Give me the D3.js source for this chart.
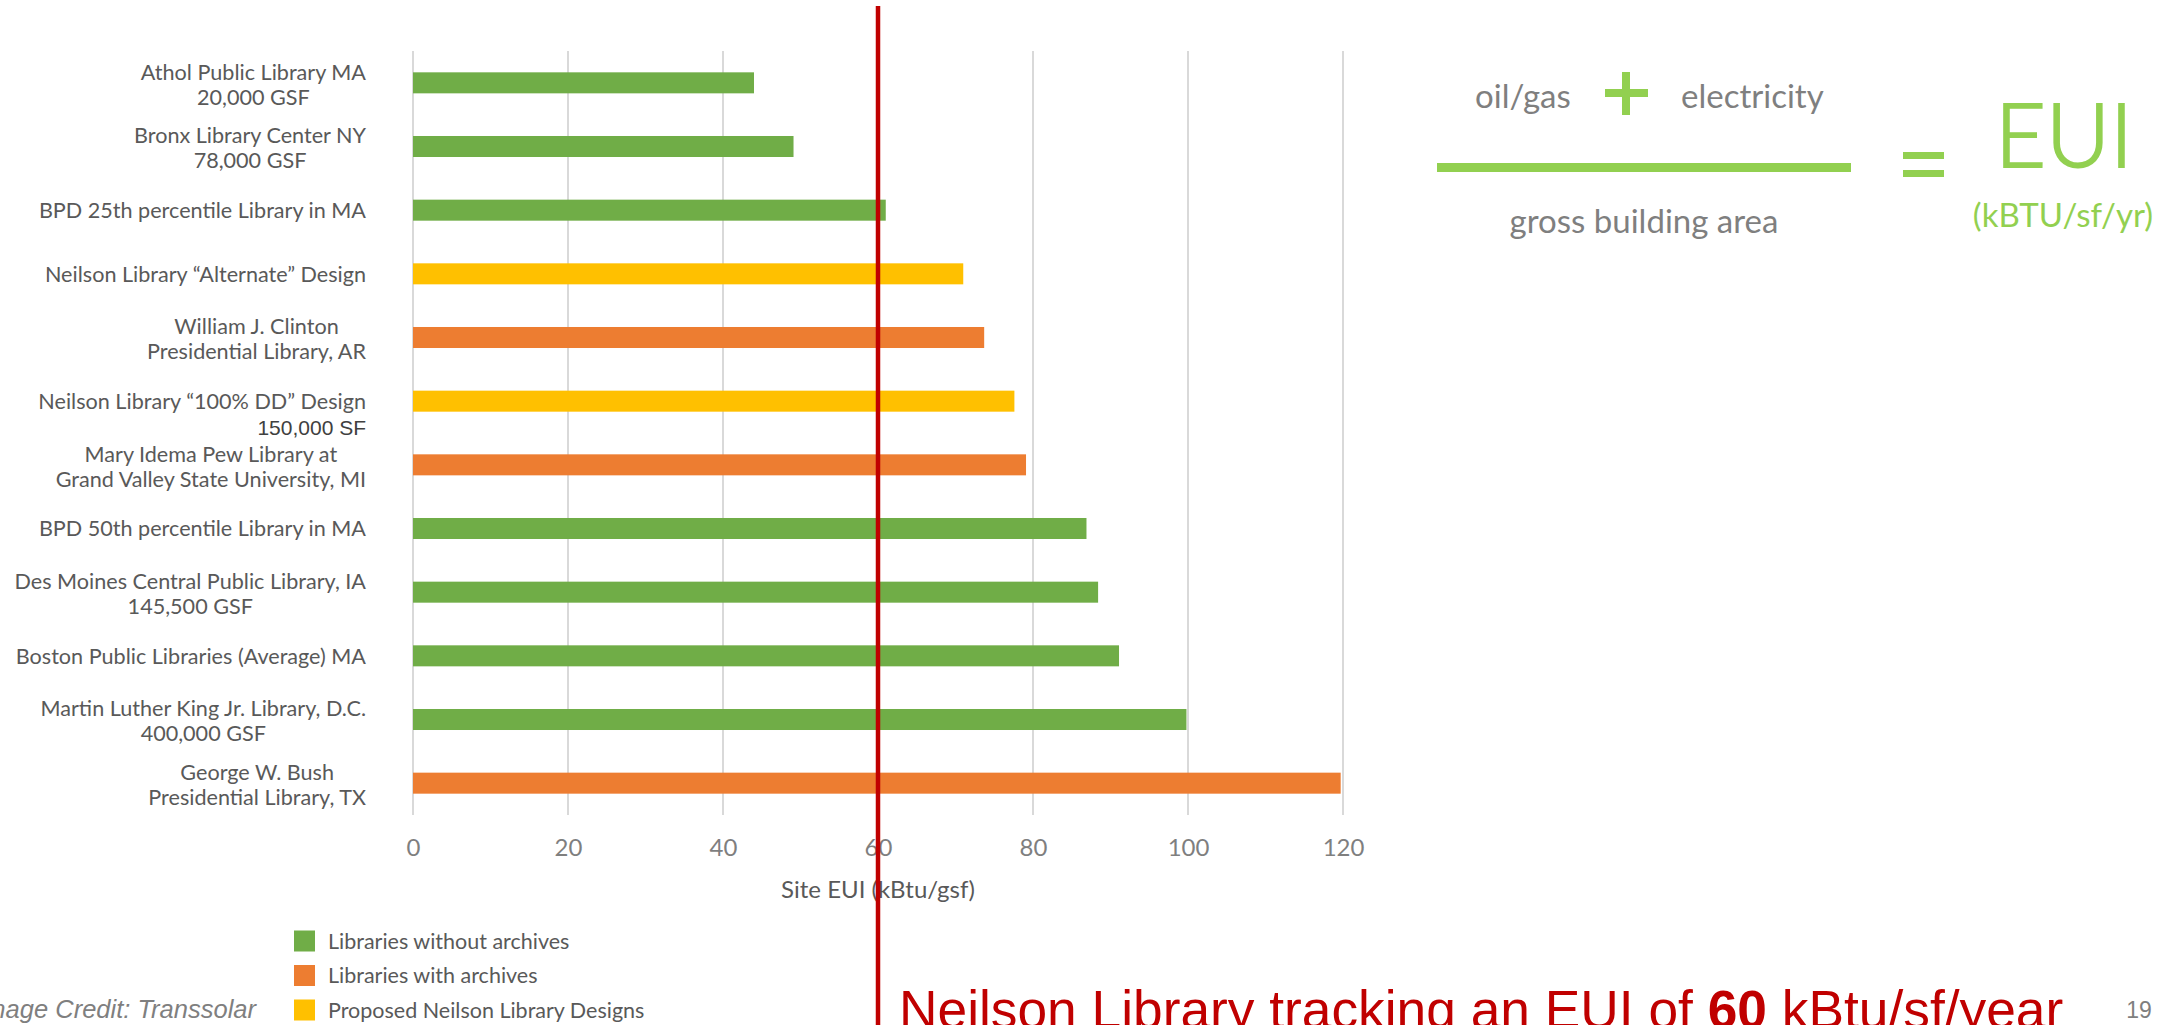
<!DOCTYPE html>
<html><head><meta charset="utf-8">
<script src="https://cdn.jsdelivr.net/npm/d3@7"></script>
<style>
html,body{margin:0;padding:0;background:#fff;}
svg{display:block;}
</style>
</head><body>
<svg id="chart" width="2177" height="1025"></svg>
<script>
// ---------- DATA ----------
const categories = [
  "Athol Public Library MA\n20,000 GSF",
  "Bronx Library Center NY\n78,000 GSF",
  "BPD 25th percentile Library in MA",
  "Neilson Library \u201CAlternate\u201D Design",
  "William J. Clinton\nPresidential Library, AR",
  "Neilson Library \u201C100% DD\u201D Design",
  "Mary Idema Pew Library at\nGrand Valley State University, MI",
  "BPD 50th percentile Library in MA",
  "Des Moines Central Public Library, IA\n145,500 GSF",
  "Boston Public Libraries (Average) MA",
  "Martin Luther King Jr. Library, D.C.\n400,000 GSF",
  "George W. Bush\nPresidential Library, TX"
];
const siteEUI = [44, 49.1, 61, 71, 73.7, 77.6, 79.1, 86.9, 88.4, 91.1, 99.8, 119.7];
const groups = [
  "Libraries without archives", "Libraries without archives", "Libraries without archives",
  "Proposed Neilson Library Designs", "Libraries with archives", "Proposed Neilson Library Designs",
  "Libraries with archives", "Libraries without archives", "Libraries without archives",
  "Libraries without archives", "Libraries without archives", "Libraries with archives"
];
const legendLabels = ["Libraries without archives", "Libraries with archives", "Proposed Neilson Library Designs"];
const xTicks = [0, 20, 40, 60, 80, 100, 120];
const xDomain = [0, 120];
const targetEUI = 60;
const designAreaNote = "150,000 SF";
const axisTitle = "Site EUI (kBtu/gsf)";
const formulaTop = ["oil/gas", "electricity"];
const formulaBottom = "gross building area";
const formulaResult = "EUI";
const formulaUnit = "(kBTU/sf/yr)";
const headline = ["Neilson Library tracking an EUI of ", "60", " kBtu/sf/year"];
const credit = "Image Credit: Transsolar";
const pageNumber = "19";

// ---------- STYLE ----------
const colors = d3.scaleOrdinal().domain(legendLabels).range(["#70AD47", "#ED7D31", "#FFC000"]);
const labelFont = "Lato, 'Open Sans', sans-serif";
const svg = d3.select("#chart");
svg.append("rect").attr("width", 2177).attr("height", 1025).attr("fill", "#fff");

const x = d3.scaleLinear().domain(xDomain).range([413, 1343]);
const y = d3.scaleBand().domain(categories).range([51, 815]).paddingInner(0.67).paddingOuter(0.335);

// gridlines
svg.append("g").selectAll("line").data(xTicks).join("line")
  .attr("x1", d => x(d)).attr("x2", d => x(d))
  .attr("y1", 51).attr("y2", 815)
  .attr("stroke", "#d9d9d9").attr("stroke-width", 2);

// bars
svg.append("g").selectAll("rect").data(categories).join("rect")
  .attr("x", x(0)).attr("y", d => y(d))
  .attr("width", (d, i) => x(siteEUI[i]) - x(0))
  .attr("height", y.bandwidth())
  .attr("fill", (d, i) => colors(groups[i]));

// x axis tick labels via d3 axis
const xAxis = d3.axisBottom(x).tickValues(xTicks).tickSize(0).tickPadding(0);
const gx = svg.append("g").attr("transform", "translate(0,848)").call(xAxis);
gx.select(".domain").remove();
gx.selectAll("text").attr("font-family", labelFont).attr("font-size", 24)
  .attr("fill", "#7f7f7f").attr("dy", "0.35em");

svg.append("text").attr("x", x(60)).attr("y", 898).attr("text-anchor", "middle")
  .attr("font-family", labelFont).attr("font-size", 24).attr("fill", "#595959").text(axisTitle);

// category labels
const labelRight = 366;
const lg = svg.append("g").attr("font-family", labelFont).attr("font-size", 21.6).attr("fill", "#595959");
categories.forEach((c, i) => {
  const lines = c.split("\n");
  const cy = y(c) + y.bandwidth() / 2;
  if (lines.length === 1) {
    lg.append("text").attr("x", labelRight).attr("y", cy).attr("dy", "0.36em")
      .attr("text-anchor", "end").text(lines[0]);
  } else {
    const t = lg.append("text").attr("text-anchor", "middle");
    const spans = lines.map((l, k) => t.append("tspan").attr("y", cy + (k === 0 ? -11 : 14)).attr("dy", "0.36em").text(l));
    const w = d3.max(spans, s => s.node().getComputedTextLength());
    spans.forEach(s => s.attr("x", labelRight - w / 2));
  }
});
// design area note under the "100% DD" label
const ddCat = categories[5];
svg.append("text").attr("x", labelRight).attr("y", y(ddCat) + y.bandwidth() / 2 + 26).attr("dy", "0.36em")
  .attr("text-anchor", "end").attr("font-family", "'Liberation Sans', Arial, sans-serif")
  .attr("font-size", 21).attr("fill", "#404040").text(designAreaNote);

// legend
const leg = svg.append("g");
legendLabels.forEach((l, i) => {
  const cy = 941 + i * 34.5;
  leg.append("rect").attr("x", 294).attr("y", cy - 10.5).attr("width", 21).attr("height", 21).attr("fill", colors(l));
  leg.append("text").attr("x", 328).attr("y", cy).attr("dy", "0.35em")
    .attr("font-family", labelFont).attr("font-size", 21.5).attr("fill", "#595959").text(l);
});

// target line
svg.append("line").attr("x1", x(targetEUI)).attr("x2", x(targetEUI)).attr("y1", 6).attr("y2", 1025)
  .attr("stroke", "#C00000").attr("stroke-width", 4.5);

// formula
const green = "#92D050";
const fg = svg.append("g").attr("font-family", labelFont);
fg.append("text").attr("x", 1475).attr("y", 108).attr("font-size", 33).attr("fill", "#7f7f7f").text(formulaTop[0]);
fg.append("text").attr("x", 1681).attr("y", 108).attr("font-size", 33).attr("fill", "#7f7f7f").text(formulaTop[1]);
fg.append("rect").attr("x", 1605).attr("y", 89).attr("width", 43).attr("height", 8).attr("fill", green);
fg.append("rect").attr("x", 1622).attr("y", 72).attr("width", 8).attr("height", 43).attr("fill", green);
fg.append("rect").attr("x", 1437).attr("y", 163).attr("width", 414).attr("height", 9).attr("fill", green);
fg.append("text").attr("x", 1644).attr("y", 233).attr("text-anchor", "middle").attr("font-size", 33).attr("fill", "#7f7f7f").text(formulaBottom);
fg.append("rect").attr("x", 1903).attr("y", 152).attr("width", 41).attr("height", 7).attr("fill", green);
fg.append("rect").attr("x", 1903).attr("y", 170).attr("width", 41).attr("height", 7).attr("fill", green);
fg.append("text").attr("x", 2064).attr("y", 167).attr("text-anchor", "middle").attr("font-size", 88).attr("font-weight", 300)
  .attr("fill", green).attr("stroke", green).attr("stroke-width", 2).text(formulaResult);
fg.append("text").attr("x", 2063).attr("y", 227).attr("text-anchor", "middle").attr("font-size", 33).attr("fill", green).text(formulaUnit);

// headline
const ht = svg.append("text").attr("x", 899).attr("y", 1028)
  .attr("font-family", "'Liberation Sans', Arial, sans-serif").attr("font-size", 53.3).attr("fill", "#C00000");
headline.forEach((h, i) => ht.append("tspan").attr("font-weight", i === 1 ? "bold" : "normal").text(h));

// credit & page number
svg.append("text").attr("x", 256).attr("y", 1018).attr("text-anchor", "end")
  .attr("font-family", "'Liberation Sans', Arial, sans-serif").attr("font-style", "italic")
  .attr("font-size", 25.5).attr("fill", "#7f7f7f").text(credit);
svg.append("text").attr("x", 2139).attr("y", 1018).attr("text-anchor", "middle")
  .attr("font-family", "'Liberation Sans', Arial, sans-serif")
  .attr("font-size", 23).attr("fill", "#7f7f7f").text(pageNumber);
</script>
</body></html>
